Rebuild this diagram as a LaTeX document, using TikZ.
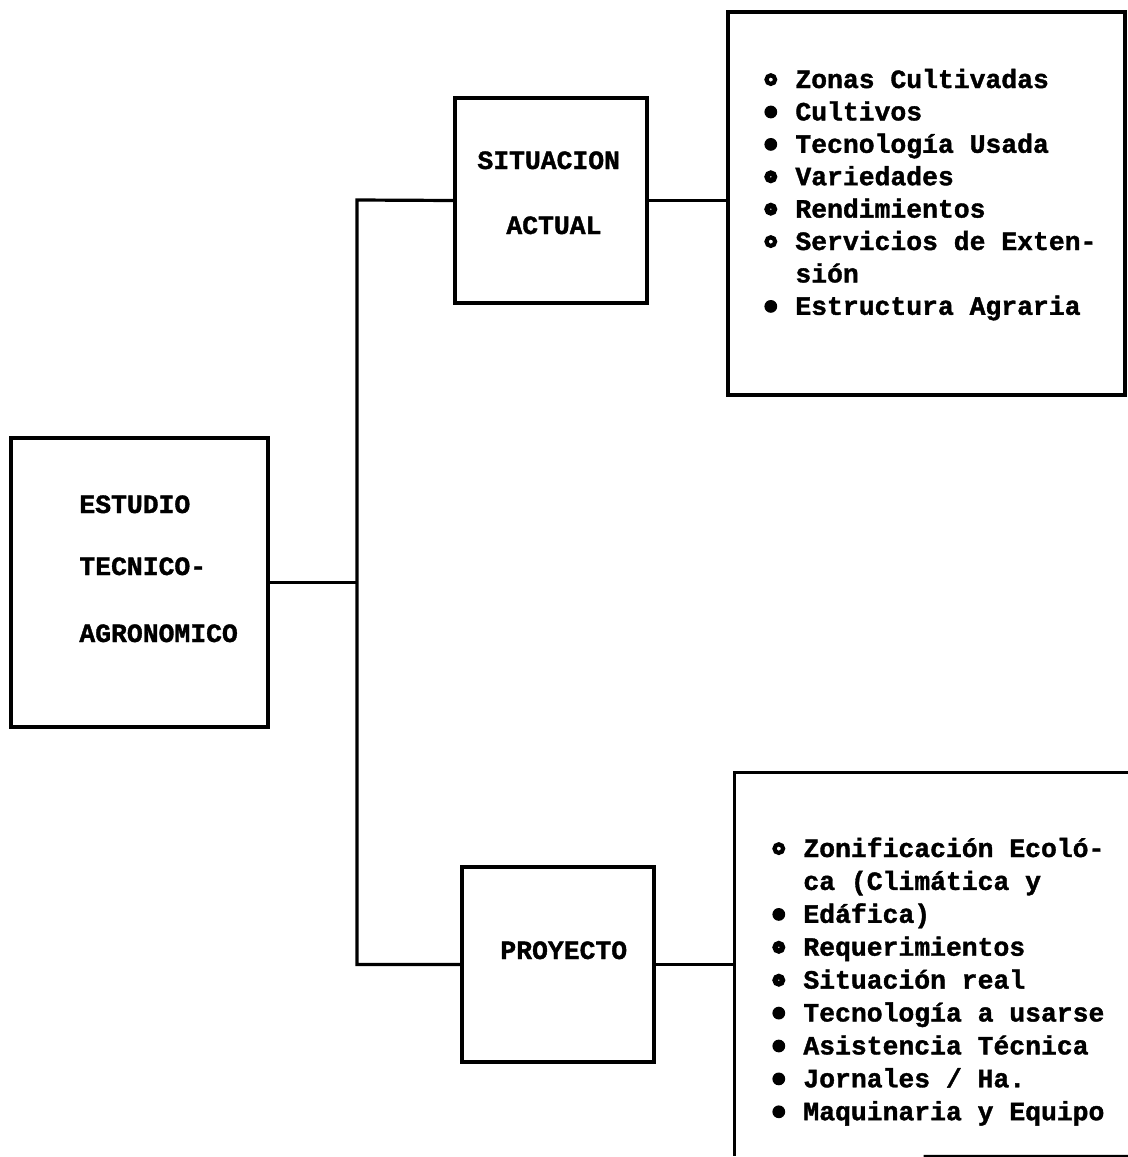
\documentclass[tikz,border=0pt]{standalone}
\usepackage{fontspec}
\setmainfont{Liberation Serif}
\newfontfamily\tw{Liberation Mono}[BoldFeatures={FakeBold=1.4}]
\usetikzlibrary{calc}

% bullets: open ring, ring with a small hole, filled dot
\newcommand\ob{\makebox[15.5pt][l]{\tikz[x=1pt,y=1pt,baseline=-4.2pt]\draw[line width=2.1pt] (0,0) circle (2.15pt);}}
\newcommand\hb{\makebox[15.5pt][l]{\tikz[x=1pt,y=1pt,baseline=-4.2pt]\draw[line width=2.7pt] (0,0) circle (1.85pt);}}
\newcommand\fb{\makebox[15.5pt][l]{\tikz[x=1pt,y=1pt,baseline=-4.2pt]\fill (0,0) circle (3.2pt);}}
\newcommand\nb{\makebox[15.5pt][l]{}}

\tikzset{
  boxst/.style={draw, line width=1.6pt, inner sep=0pt},
  label/.style={font=\tw\bfseries\fontsize{13.2pt}{16pt}\selectfont, inner sep=0pt, anchor=base west},
  wire/.style={line width=1.6pt},
}

\begin{document}
\begin{tikzpicture}[x=0.5pt,y=-0.5pt]
\useasboundingbox (0,0) rectangle (1128,1157);

% boxes
\node[boxst, minimum width=128.5pt, minimum height=144.5pt] (est) at (139.5,582.5) {};
\node[boxst, minimum width=96pt, minimum height=102.5pt] (sit) at (551,200.5) {};
\node[boxst, minimum width=198.5pt, minimum height=191.5pt] (lbox) at (926.5,203.5) {};
\node[boxst, minimum width=96pt, minimum height=97.5pt] (pro) at (558,964.5) {};
\node[inner sep=0pt, minimum width=205pt, minimum height=191.5pt] (pbox) at (940,964.5) {};

% open box at the lower right
\draw[wire] (pbox.north east) -- (pbox.north west) -- (pbox.south west);
\draw[wire] ($(pbox.south west)!0.46!(pbox.south east)$) -- (pbox.south east);

% box titles
\node[label] (t1) at (79,513) {ESTUDIO};
\node[label] (t2) at (79,575) {TECNICO-};
\node[label] (t3) at (79,642) {AGRONOMICO};
\node[label] (t4) at (477,169) {SITUACION};
\node[label] (t5) at (506,234) {ACTUAL};
\node[label] (t6) at (500,959) {PROYECTO};

% lists
\node[label] (la) at (764,88) {\fontsize{13.2pt}{16.2pt}\selectfont
\begin{tabular}[t]{@{}l@{}}
\ob Zonas Cultivadas\\
\fb Cultivos\\
\fb Tecnología Usada\\
\hb Variedades\\
\hb Rendimientos\\
\ob Servicios de Exten-\\
\nb sión\\
\fb Estructura Agraria
\end{tabular}};

\node[label] (lb) at (772,857) {\fontsize{13.2pt}{16.45pt}\selectfont
\begin{tabular}[t]{@{}l@{}}
\ob Zonificación Ecoló-\\
\nb ca (Climática y\\
\fb Edáfica)\\
\hb Requerimientos\\
\hb Situación real\\
\fb Tecnología a usarse\\
\fb Asistencia Técnica\\
\fb Jornales / Ha.\\
\fb Maquinaria y Equipo
\end{tabular}};

% connectors
\coordinate (jt) at (357,200);
\coordinate (jb) at (357,964.5);
\draw[wire] (sit.west) -- (jt) -- (jb) -- (pro.west);
\draw[wire] (est.east) -- (est.east -| jt);
\draw[wire] (sit.east) -- (sit.east -| lbox.west);
\draw[wire] (pro.east) -- (pro.east -| pbox.west);
\end{tikzpicture}
\end{document}
